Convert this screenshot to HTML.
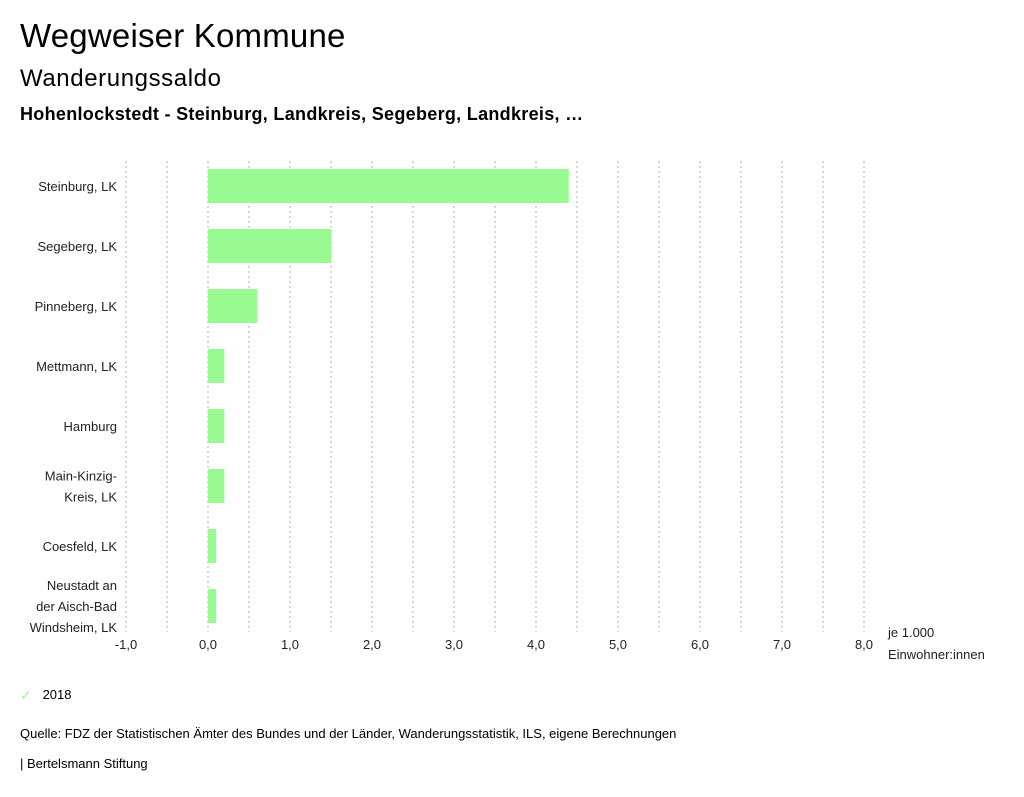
<!DOCTYPE html>
<html><head><meta charset="utf-8">
<style>
body{margin:0;background:#fff;font-family:"Liberation Sans","DejaVu Sans",sans-serif;color:#000;width:1024px;height:797px;overflow:hidden;position:relative}
.t{position:absolute;white-space:nowrap}
</style></head><body>
<div class="t" style="left:20px;top:17px;font-size:33px;letter-spacing:0.2px">Wegweiser Kommune</div>
<div class="t" style="left:20px;top:65px;font-size:24px;letter-spacing:0.6px">Wanderungssaldo</div>
<div class="t" style="left:20px;top:104px;font-size:18px;font-weight:bold;letter-spacing:0.3px">Hohenlockstedt - Steinburg, Landkreis, Segeberg, Landkreis, …</div>
<svg id="chart" width="1024" height="797" style="position:absolute;left:0;top:0;font-family:'Liberation Sans',sans-serif"></svg>
<div class="t" style="left:20px;top:686px;font-size:13px"><span style="color:#9afa92;font-size:14px;position:relative;top:1px">✓</span>&nbsp;&nbsp;&nbsp;2018</div>
<div class="t" style="left:20px;top:726px;font-size:13px">Quelle: FDZ der Statistischen Ämter des Bundes und der Länder, Wanderungsstatistik, ILS, eigene Berechnungen</div>
<div class="t" style="left:20px;top:756px;font-size:13px">| Bertelsmann Stiftung</div>
<script>
const categories=[["Steinburg, LK"],["Segeberg, LK"],["Pinneberg, LK"],["Mettmann, LK"],["Hamburg"],["Main-Kinzig-","Kreis, LK"],["Coesfeld, LK"],["Neustadt an","der Aisch-Bad","Windsheim, LK"]];
const values=[4.4,1.5,0.6,0.2,0.2,0.2,0.1,0.1];
const tickValues=[-1,0,1,2,3,4,5,6,7,8];
const tickLabels=["-1,0","0,0","1,0","2,0","3,0","4,0","5,0","6,0","7,0","8,0"];
const svg=document.getElementById('chart');
const NS='http://www.w3.org/2000/svg';
const x=v=>208+v*82;
const yc=i=>186+i*60;
function mk(tag,attrs){const e=document.createElementNS(NS,tag);for(const k in attrs)e.setAttribute(k,attrs[k]);svg.appendChild(e);return e;}
for(let v=-1;v<=8.001;v+=0.5){
  const g=mk('line',{x1:x(v),x2:x(v),y1:161,y2:632,stroke:'#b0b0b0','stroke-width':1,'stroke-dasharray':'2,3'});
  
  
}
values.forEach((v,i)=>{
  const r=mk('rect',{x:Math.min(x(0),x(v)),y:yc(i)-17,width:Math.abs(x(v)-x(0)),height:34,fill:'#9afa92'});
  
  
});
categories.forEach((lines,i)=>{
  const n=lines.length;
  lines.forEach((l,j)=>{
    const t=mk('text',{x:117,y:yc(i)+5+(j-(n-1)/2)*21,'text-anchor':'end','font-size':13,fill:'#222'});
    t.textContent=l;
    
    
  });
});
tickValues.forEach((v,i)=>{
  const t=mk('text',{x:x(v),y:649,'text-anchor':'middle','font-size':13,fill:'#222'});
  t.textContent=tickLabels[i];
  
  
});
[["je 1.000",637],["Einwohner:innen",659]].forEach(a=>{
  const t=mk('text',{x:888,y:a[1],'font-size':13,fill:'#222'});
  t.textContent=a[0];
  
  
});
</script>
</body></html>
